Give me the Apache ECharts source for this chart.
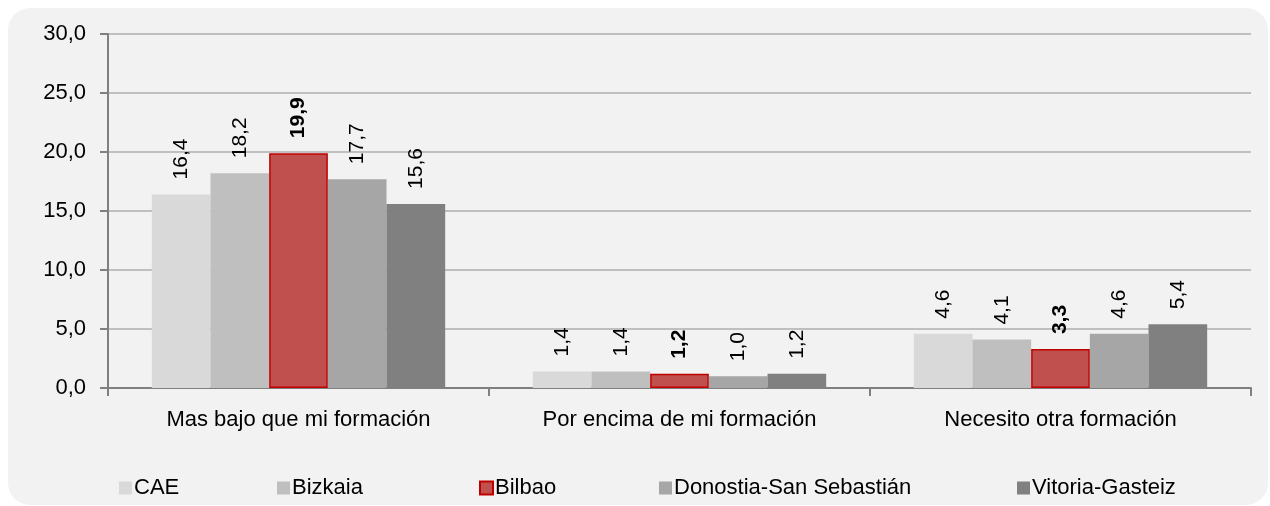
<!DOCTYPE html>
<html>
<head>
<meta charset="utf-8">
<script src="https://cdn.jsdelivr.net/npm/echarts@6/dist/echarts.min.js"></script>
<style>
  html, body { margin: 0; padding: 0; background: #fff; }
  #chart { width: 1270px; height: 506px; }
</style>
</head>
<body>
<div id="chart"></div>
<script>
const categories = ['Mas bajo que mi formación', 'Por encima de mi formación', 'Necesito otra formación']
const seriesNames = ['CAE', 'Bizkaia', 'Bilbao', 'Donostia-San Sebastián', 'Vitoria-Gasteiz']
const cae = [16.4, 1.4, 4.6]
const bizkaia = [18.2, 1.4, 4.1]
const bilbao = [19.9, 1.2, 3.3]
const donostia = [17.7, 1.0, 4.6]
const vitoria = [15.6, 1.2, 5.4]
const seriesValues = [cae, bizkaia, bilbao, donostia, vitoria]

const colors = ['#d9d9d9', '#bfbfbf', '#c0504d', '#a6a6a6', '#808080']
const legendLeft = [114, 272, 474, 654, 1012]
const FONT = 'Liberation Sans, Arial, sans-serif'

const fmt = (v) => v.toFixed(1).replace('.', ',')

const chart = echarts.init(document.getElementById('chart'))

const series = seriesNames.map((name, i) => {
  const isBilbao = name === 'Bilbao'
  return {
    name,
    type: 'bar',
    data: seriesValues[i],
    barGap: '0%',
    barCategoryGap: '23%',
    itemStyle: {
      color: colors[i],
      borderColor: isBilbao ? '#c00000' : colors[i],
      borderWidth: isBilbao ? 1.5 : 0,
    },
    label: {
      show: true,
      position: 'top',
      rotate: 90,
      align: 'left',
      verticalAlign: 'middle',
      distance: 15,
      color: '#000',
      fontFamily: FONT,
      fontSize: 21,
      fontWeight: isBilbao ? 'bold' : 'normal',
      formatter: (p) => fmt(p.value),
    },
    emphasis: { disabled: true },
  }
})

chart.setOption({
  animation: false,
  backgroundColor: 'transparent',
  graphic: [{
    type: 'rect',
    z: -10,
    shape: { x: 8, y: 8, width: 1260, height: 497, r: 22 },
    style: { fill: '#f2f2f2' },
  }],
  legend: seriesNames.map((name, i) => ({
    data: [name],
    left: legendLeft[i],
    top: 472,
    itemWidth: 13,
    itemHeight: 13,
    itemGap: 0,
    icon: 'rect',
    textStyle: { fontFamily: FONT, fontSize: 22, color: '#000', padding: [0, 0, 0, -3] },
    selectedMode: false,
  })),
  grid: { left: 108, right: 19, top: 34, bottom: 118 },
  xAxis: {
    type: 'category',
    data: categories,
    axisLine: { lineStyle: { color: '#808080', width: 2 } },
    axisTick: { show: true, length: 8, lineStyle: { color: '#808080', width: 2 } },
    axisLabel: { color: '#000', fontFamily: FONT, fontSize: 22, margin: 21 },
  },
  yAxis: {
    type: 'value',
    min: 0,
    max: 30,
    interval: 5,
    axisLine: { show: true, lineStyle: { color: '#808080', width: 2 } },
    axisTick: { show: true, length: 8, lineStyle: { color: '#808080', width: 2 } },
    axisLabel: { color: '#000', fontFamily: FONT, fontSize: 22, margin: 22, formatter: (v) => fmt(v) },
    splitLine: { lineStyle: { color: '#bfbfbf', width: 2 } },
  },
  series,
})
</script>
</body>
</html>
